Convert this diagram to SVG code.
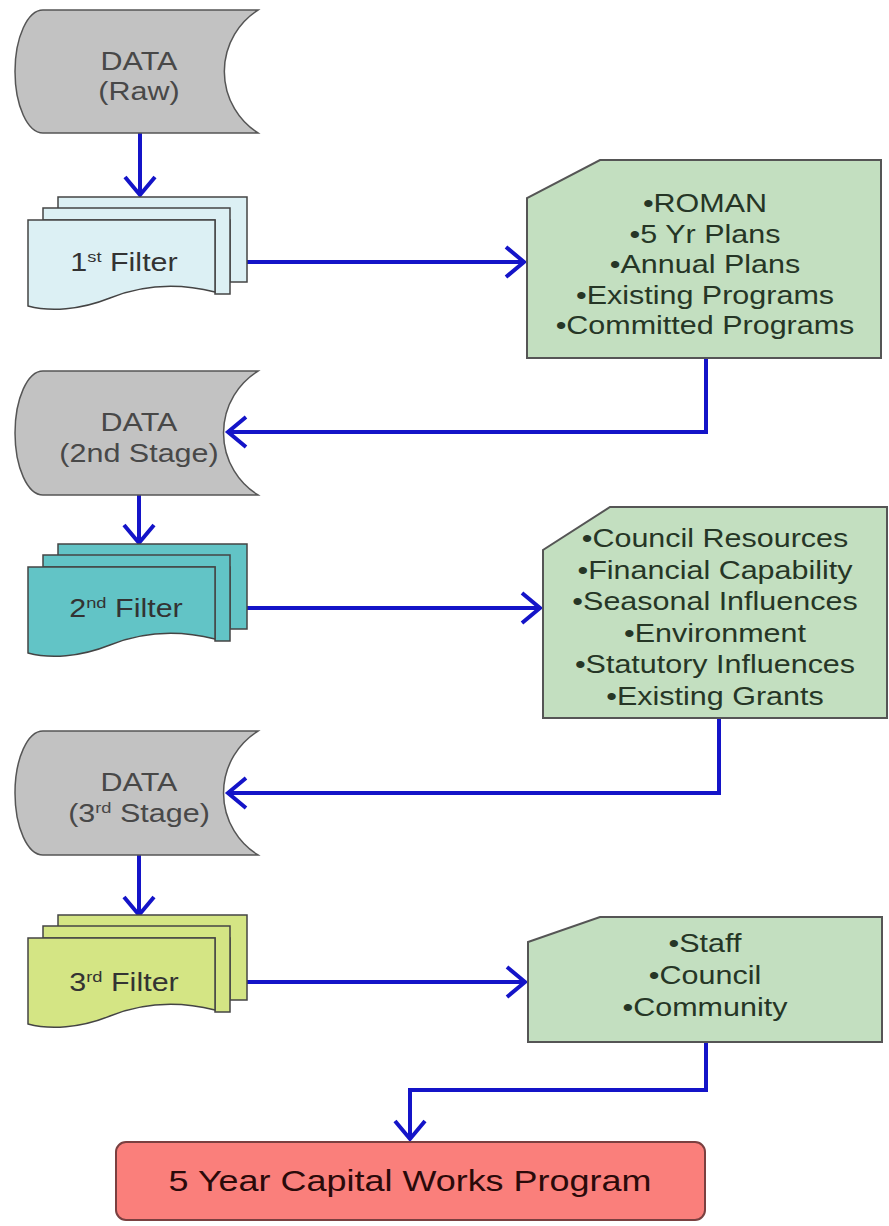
<svg xmlns="http://www.w3.org/2000/svg" width="889" height="1226" viewBox="0 0 889 1226">
<defs>
<style>
.data{fill:#c2c2c2;stroke:#555;stroke-width:1.5}
.sheet{stroke:#444;stroke-width:1.5}
.f1{fill:#dcf0f4}
.f2{fill:#62c4c6}
.f3{fill:#d4e584}
.note{fill:#c3dfc0;stroke:#555;stroke-width:2}
.t{font-family:"Liberation Sans",Arial,sans-serif;font-size:25px;text-anchor:middle}
.td{fill:#484848}
.tf{fill:#333}
.tn{fill:#263626}
.conn{fill:none;stroke:#1414c8;stroke-width:4;marker-end:url(#arr)}
</style>
<marker id="arr" markerUnits="userSpaceOnUse" viewBox="-25 -25 50 50" markerWidth="50" markerHeight="50" refX="0" refY="0" orient="auto" overflow="visible">
<path d="M-18,-15 L0,0 L-18,15" fill="none" stroke="#1414c8" stroke-width="4"/>
</marker>
</defs>
<rect width="889" height="1226" fill="#fff"/>

<g id="connectors">
<path class="conn" d="M140,133 V195"/>
<path class="conn" d="M247,262 H524"/>
<path class="conn" d="M706,358 V432 H228"/>
<path class="conn" d="M139,495 V543"/>
<path class="conn" d="M247,608 H540"/>
<path class="conn" d="M719,718 V793 H228"/>
<path class="conn" d="M139,855 V915"/>
<path class="conn" d="M247,982 H525"/>
<path class="conn" d="M706,1042 V1090 H410 V1139"/>
</g>

<g id="data-raw">
<path class="data" d="M43,10 H258 A73,73 0 0 0 258,133 H43 A28,61.5 0 0 1 43,10 Z"/>
<text class="t td" transform="translate(139 70) scale(1.22 1)">DATA</text>
<text class="t td" transform="translate(139 100) scale(1.22 1)">(Raw)</text>
</g>

<g id="filter-1" transform="translate(0 220)">
<polygon class="sheet f1" points="58,-23 247,-23 247,62 230,62 230,0 58,0"/>
<polygon class="sheet f1" points="43,-12 230,-12 230,74 215,74 215,0 43,0"/>
<path class="sheet f1" d="M28,0 H215 V72 C175,62 140,66 110,78 C80,90 50,92 28,86 Z"/>
<text class="t tf" transform="translate(124 51) scale(1.22 1)">1<tspan font-size="15" dy="-9">st</tspan><tspan dy="9"> Filter</tspan></text>
</g>

<g id="note-1">
<path class="note" d="M600,160 H881 V358 H527 V198 Z"/>
<text class="t tn" transform="translate(705 212) scale(1.22 1)">•ROMAN</text>
<text class="t tn" transform="translate(705 242.5) scale(1.22 1)">•5 Yr Plans</text>
<text class="t tn" transform="translate(705 273) scale(1.22 1)">•Annual Plans</text>
<text class="t tn" transform="translate(705 303.5) scale(1.22 1)">•Existing Programs</text>
<text class="t tn" transform="translate(705 334) scale(1.22 1)">•Committed Programs</text>
</g>

<g id="data-2nd">
<path class="data" d="M43,371 H258 A73,73 0 0 0 258,495 H43 A28,62 0 0 1 43,371 Z"/>
<text class="t td" transform="translate(139 431) scale(1.22 1)">DATA</text>
<text class="t td" transform="translate(139 462) scale(1.22 1)">(2nd Stage)</text>
</g>

<g id="filter-2" transform="translate(0 567)">
<polygon class="sheet f2" points="58,-23 247,-23 247,62 230,62 230,0 58,0"/>
<polygon class="sheet f2" points="43,-12 230,-12 230,74 215,74 215,0 43,0"/>
<path class="sheet f2" d="M28,0 H215 V72 C175,62 140,66 110,78 C80,90 50,92 28,86 Z"/>
<text class="t tf" transform="translate(126 50) scale(1.22 1)">2<tspan font-size="15" dy="-9">nd</tspan><tspan dy="9"> Filter</tspan></text>
</g>

<g id="note-2">
<path class="note" d="M610,507 H887 V718 H543 V550 Z"/>
<text class="t tn" transform="translate(715 547) scale(1.22 1)">•Council Resources</text>
<text class="t tn" transform="translate(715 578.5) scale(1.22 1)">•Financial Capability</text>
<text class="t tn" transform="translate(715 610) scale(1.22 1)">•Seasonal Influences</text>
<text class="t tn" transform="translate(715 641.5) scale(1.22 1)">•Environment</text>
<text class="t tn" transform="translate(715 673) scale(1.22 1)">•Statutory Influences</text>
<text class="t tn" transform="translate(715 704.5) scale(1.22 1)">•Existing Grants</text>
</g>

<g id="data-3rd">
<path class="data" d="M43,731 H258 A73,73 0 0 0 258,855 H43 A28,62 0 0 1 43,731 Z"/>
<text class="t td" transform="translate(139 791) scale(1.22 1)">DATA</text>
<text class="t td" transform="translate(139 822) scale(1.22 1)">(3<tspan font-size="15" dy="-9">rd</tspan><tspan dy="9"> Stage)</tspan></text>
</g>

<g id="filter-3" transform="translate(0 938)">
<polygon class="sheet f3" points="58,-23 247,-23 247,62 230,62 230,0 58,0"/>
<polygon class="sheet f3" points="43,-12 230,-12 230,74 215,74 215,0 43,0"/>
<path class="sheet f3" d="M28,0 H215 V72 C175,62 140,66 110,78 C80,90 50,92 28,86 Z"/>
<text class="t tf" transform="translate(124 53) scale(1.22 1)">3<tspan font-size="15" dy="-9">rd</tspan><tspan dy="9"> Filter</tspan></text>
</g>

<g id="note-3">
<path class="note" d="M600,917 H882 V1042 H528 V942 Z"/>
<text class="t tn" transform="translate(705 952) scale(1.22 1)">•Staff</text>
<text class="t tn" transform="translate(705 984) scale(1.22 1)">•Council</text>
<text class="t tn" transform="translate(705 1016) scale(1.22 1)">•Community</text>
</g>

<g id="result">
<rect x="116" y="1142" width="589" height="78" rx="10" fill="#fa7f7b" stroke="#7a4040" stroke-width="2"/>
<text class="t" fill="#2a0a0a" transform="translate(410 1191) scale(1.24 1)" style="font-size:29px">5 Year Capital Works Program</text>
</g>
</svg>
